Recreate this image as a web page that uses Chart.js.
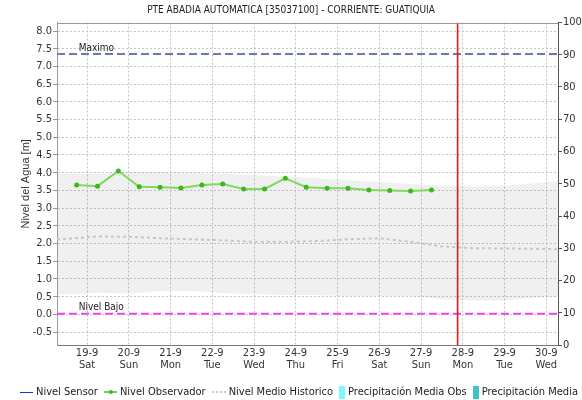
<!DOCTYPE html>
<html>
<head>
<meta charset="utf-8">
<script src="https://cdn.jsdelivr.net/npm/chart.js@4"></script>
<style>
  html, body { margin: 0; padding: 0; background: #fff; }
  #wrap { position: relative; width: 582px; height: 400px; overflow: hidden; }
  #legend {
    position: absolute; left: 20px; top: 384px; width: 562px;
    overflow: hidden; white-space: nowrap;
    font: 11px 'Liberation Sans Narrow', 'DejaVu Sans Condensed', sans-serif;
    color: #222; line-height: 15px;
  }
  .item { display: inline-block; margin-right: 6px; }
  .sw { display: inline-block; vertical-align: middle; margin-right: 3px; position: relative; }
</style>
</head>
<body>
<div id="wrap">
  <canvas id="c" width="582" height="400"></canvas>
  <div id="legend"></div>
</div>
<script>
// Days shown on the time axis (0 = 19-9)
const dayLabels = ['19-9','20-9','21-9','22-9','23-9','24-9','25-9','26-9','27-9','28-9','29-9','30-9'];
const weekDays  = ['Sat','Sun','Mon','Tue','Wed','Thu','Fri','Sat','Sun','Mon','Tue','Wed'];

// Observer readings (06:00 and 18:00), level in metres
const obsTimes  = [-0.25,0.25,0.75,1.25,1.75,2.25,2.75,3.25,3.75,4.25,4.75,5.25,5.75,6.25,6.75,7.25,7.75,8.25];
const obsLevels = [3.65,3.62,4.05,3.60,3.59,3.57,3.65,3.68,3.54,3.54,3.84,3.59,3.56,3.56,3.51,3.50,3.48,3.51];

// Historical envelope and mean level
const histTimes = [-0.72,-0.25,0.25,1,1.75,2.5,3.25,4,4.75,5.5,6.25,7,7.75,8.5,9.25,10,10.75,11.28];
const histHigh  = [3.97,3.96,3.96,4.02,4.03,4.00,3.97,3.93,3.89,3.84,3.79,3.74,3.68,3.64,3.62,3.64,3.70,3.76];
const histLow   = [0.56,0.56,0.62,0.58,0.66,0.66,0.60,0.57,0.55,0.55,0.52,0.52,0.52,0.42,0.40,0.40,0.46,0.50];
const histMean  = [2.12,2.15,2.20,2.19,2.15,2.12,2.09,2.05,2.05,2.07,2.12,2.15,2.05,1.92,1.87,1.86,1.85,1.84];

// Reference levels and current time marker
const refNames  = ['Maximo', 'Nivel Bajo'];
const refLevels = [7.35, 0.02];
const nowTime   = 8.875;

// Axis ranges and ticks
const timeRange   = [-0.72, 11.28];
const levelRange  = [-0.864, 8.24];
const levelTicks  = [-0.5,0,0.5,1,1.5,2,2.5,3,3.5,4,4.5,5,5.5,6,6.5,7,7.5,8];
const percentTicks = [0,10,20,30,40,50,60,70,80,90,100];

const legendNames = ['Nivel Sensor','Nivel Observador','Nivel Medio Historico','Precipitación Media Obs','Precipitación Media Pronosticada'];

const NARROW = "'Liberation Sans Narrow', 'DejaVu Sans Condensed', sans-serif";
const pts = (xs, ys) => xs.map((x, i) => ({ x, y: ys[i] }));

const legendStyle = {
  'Nivel Sensor':          { kind: 'line',  color: '#1f2fd6' },
  'Nivel Observador':      { kind: 'point', color: '#6fd24a', dot: '#3cb81c' },
  'Nivel Medio Historico': { kind: 'dots',  color: '#c8c8c8' },
  'Precipitación Media Obs': { kind: 'box', color: '#7ff7ff' },
  'Precipitación Media Pronosticada': { kind: 'box', color: '#3fc4c4' }
};

// HTML legend row
const legendEl = document.getElementById('legend');
legendNames.forEach(name => {
  const st = legendStyle[name];
  const item = document.createElement('span');
  item.className = 'item';
  const sw = document.createElement('span');
  sw.className = 'sw';
  if (st.kind === 'line') {
    sw.style.cssText += `width:13px;height:0;border-top:1.5px solid ${st.color};`;
  } else if (st.kind === 'point') {
    sw.style.cssText += `width:13px;height:0;border-top:2px solid ${st.color};`;
    const d = document.createElement('span');
    d.style.cssText = `position:absolute;left:5px;top:-3.5px;width:4px;height:4px;border-radius:2px;background:${st.dot};`;
    sw.appendChild(d);
  } else if (st.kind === 'dots') {
    sw.style.cssText += `width:14px;height:0;border-top:2px dotted ${st.color};`;
  } else {
    sw.style.cssText += `width:6px;height:13px;background:${st.color};`;
  }
  item.appendChild(sw);
  item.appendChild(document.createTextNode(name));
  legendEl.appendChild(item);
});

// Labels on the reference lines and the upper frame edge
const annotate = {
  id: 'annotate',
  afterDatasetsDraw(chart) {
    const { ctx, chartArea, scales: { x, y } } = chart;
    ctx.save();
    ctx.font = '10px ' + NARROW;
    ctx.fillStyle = '#222';
    ctx.textBaseline = 'bottom';
    refNames.forEach((n, i) => {
      ctx.fillText(n, x.getPixelForValue(-0.2), y.getPixelForValue(refLevels[i]) - 1);
    });
    ctx.strokeStyle = '#999';
    ctx.lineWidth = 1;
    ctx.beginPath();
    ctx.moveTo(chartArea.left, Math.round(chartArea.top) + 0.5);
    ctx.lineTo(chartArea.right, Math.round(chartArea.top) + 0.5);
    ctx.stroke();
    ctx.restore();
  }
};

new Chart(document.getElementById('c'), {
  type: 'line',
  data: {
    datasets: [
      { label: 'Ahora', data: [{ x: nowTime, y: levelRange[0] }, { x: nowTime, y: levelRange[1] }],
        borderColor: '#e01818', borderWidth: 1.6, pointRadius: 0, order: 0 },
      { label: 'Nivel Observador', data: pts(obsTimes, obsLevels),
        borderColor: '#82d760', borderWidth: 2, pointRadius: 2.5, pointBackgroundColor: '#3cb81c',
        pointBorderWidth: 0, tension: 0, order: 1 },
      { label: refNames[0], data: [{ x: timeRange[0], y: refLevels[0] }, { x: timeRange[1], y: refLevels[0] }],
        borderColor: '#6b7aaa', borderWidth: 2, borderDash: [8, 4], pointRadius: 0, order: 2 },
      { label: refNames[1], data: [{ x: timeRange[0], y: refLevels[1] }, { x: timeRange[1], y: refLevels[1] }],
        borderColor: '#ee44ee', borderWidth: 2, borderDash: [8, 4], pointRadius: 0, order: 2 },
      { label: 'Nivel Medio Historico', data: pts(histTimes, histMean),
        borderColor: '#c6c6c6', borderWidth: 2, borderDash: [3, 3], pointRadius: 0, order: 3 },
      { label: 'Máximo histórico', data: pts(histTimes, histHigh),
        borderWidth: 0, pointRadius: 0, fill: false, order: 4 },
      { label: 'Mínimo histórico', data: pts(histTimes, histLow),
        borderWidth: 0, pointRadius: 0, fill: '-1', backgroundColor: 'rgba(120,120,120,0.115)', order: 4 }
    ]
  },
  options: {
    responsive: false,
    animation: false,
    events: [],
    layout: { padding: 0 },
    plugins: {
      legend: { display: false },
      tooltip: { enabled: false },
      title: {
        display: true,
        text: 'PTE ABADIA AUTOMATICA [35037100] - CORRIENTE: GUATIQUIA',
        color: '#222',
        font: { family: NARROW, size: 10, weight: 'normal', lineHeight: 1.2 },
        padding: { top: 4.5, bottom: 6 }
      }
    },
    scales: {
      x: {
        type: 'linear',
        min: timeRange[0], max: timeRange[1],
        afterBuildTicks: s => { s.ticks = dayLabels.map((_, i) => ({ value: i })); },
        afterFit: s => { s.height = 55; },
        ticks: {
          autoSkip: false, maxRotation: 0, padding: 2, color: '#333',
          font: { family: NARROW, size: 11, lineHeight: 1.1 },
          callback: v => [dayLabels[v], weekDays[v]]
        },
        grid: { color: '#c4c4c4', lineWidth: 1, drawTicks: false },
        border: { color: '#777', dash: [2, 2] }
      },
      y: {
        position: 'left',
        min: levelRange[0], max: levelRange[1],
        afterBuildTicks: s => { s.ticks = levelTicks.map(v => ({ value: v })); },
        afterFit: s => { s.width = 57; },
        title: {
          display: true, text: 'Nivel del Agua [m]', color: '#333',
          font: { family: "'Liberation Sans', Arial, sans-serif", size: 11 },
          padding: { top: 19 }
        },
        ticks: {
          padding: 1, color: '#333',
          font: { family: NARROW, size: 11 },
          callback: v => v.toFixed(1)
        },
        grid: { color: '#c4c4c4', lineWidth: 1, tickLength: 4, tickColor: '#999' },
        border: { color: '#999', dash: [2, 2] }
      },
      y2: {
        position: 'right',
        min: 0, max: 100,
        afterBuildTicks: s => { s.ticks = percentTicks.map(v => ({ value: v })); },
        afterFit: s => { s.width = 24; },
        ticks: {
          padding: 1, color: '#333',
          font: { family: NARROW, size: 11 }
        },
        grid: { drawOnChartArea: false, tickLength: 4, tickColor: '#555' },
        border: { color: '#555' }
      }
    }
  },
  plugins: [annotate]
});
</script>
</body>
</html>
